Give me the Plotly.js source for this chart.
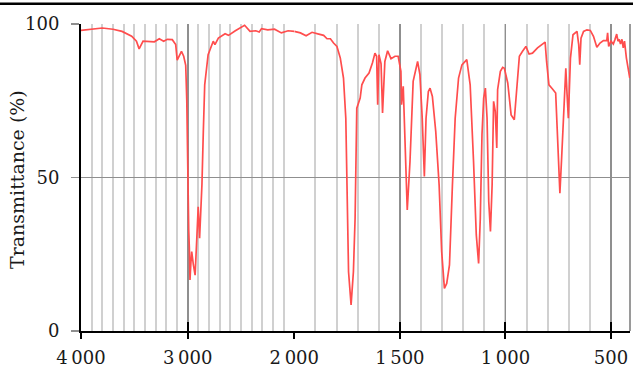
<!DOCTYPE html>
<html>
<head>
<meta charset="utf-8">
<script src="https://cdn.plot.ly/plotly-3.0.1.min.js"></script>
<style>
  html, body { margin: 0; padding: 0; background: #fff; }
  #chart { width: 633px; height: 367px; }
</style>
</head>
<body>
<div id="chart"></div>
<script>
// IR spectrum: wavenumber (cm^-1) and transmittance (%)
const wavenumber = [
  4000, 3900, 3800, 3700, 3615, 3525, 3480, 3455, 3418, 3312, 3266, 3225, 3190, 3144, 3112, 3098, 3075, 3058, 3037, 3018,
  3008, 3000, 2990, 2984, 2978, 2970, 2962, 2946, 2930, 2914, 2901, 2888, 2866, 2853, 2840, 2808, 2776, 2760, 2744, 2712,
  2649, 2617, 2553, 2505, 2466, 2415, 2361, 2329, 2307, 2249, 2185, 2121, 2058, 2000,
  1971, 1944, 1916, 1884, 1861, 1845, 1829, 1814, 1798, 1782, 1767, 1756, 1748, 1743, 1731, 1720, 1712, 1704, 1688, 1680,
  1665, 1646, 1630, 1618, 1610, 1605, 1599, 1589, 1582, 1571, 1558, 1542, 1523, 1508, 1495, 1492, 1484, 1476, 1465, 1452,
  1437, 1416, 1405, 1394, 1384, 1376, 1365, 1357, 1346, 1330, 1314, 1302, 1289, 1278, 1265, 1251, 1238, 1222, 1206, 1183,
  1167, 1151, 1138, 1127, 1119, 1111, 1103, 1095, 1087, 1079, 1071, 1063, 1056, 1048, 1041, 1037, 1024, 1013, 1005, 989,
  973, 958, 942, 934, 919, 903, 888, 872, 848, 825, 812, 805, 794, 778, 762, 755, 747, 742, 734, 723,
  714, 708, 702, 692, 680, 661, 653, 648, 642, 630, 614, 598, 583, 567, 552, 536, 520, 516, 511, 500,
  489, 481, 473, 467, 461, 455, 448, 442, 436, 427, 411
];
const transmittance = [
  97.9, 98.4, 98.7, 98.3, 97.6, 96.0, 94.4, 91.9, 94.4, 94.2, 95.2, 94.4, 95.0, 94.9, 93.3, 88.2, 90.0, 91.1, 89.5, 86.5,
  75.0, 49.8, 33.0, 26.9, 16.6, 22.0, 25.9, 21.5, 18.2, 30.2, 40.5, 30.2, 47.6, 65.0, 80.2, 90.0, 93.3, 94.4, 93.3, 95.4,
  96.8, 96.3, 97.8, 98.9, 99.6, 97.6, 97.8, 97.4, 98.5, 98.1, 98.3, 97.1, 97.8, 97.6,
  97.1, 96.2, 97.3, 96.7, 96.3, 95.2, 95.2, 93.8, 92.7, 88.9, 82.4, 69.3, 36.7, 19.3, 8.5, 19.3, 36.7, 72.6, 75.9, 80.2,
  82.4, 84.0, 87.3, 90.5, 89.5, 73.7, 90.0, 87.0, 71.0, 87.8, 91.3, 88.7, 89.5, 89.5, 84.6, 73.7, 79.7, 63.9, 39.4, 55.2,
  81.3, 87.8, 83.5, 69.3, 50.3, 69.3, 78.0, 79.1, 76.4, 65.0, 47.6, 25.9, 13.9, 15.5, 21.5, 47.6, 69.3, 82.4, 86.7, 88.4,
  80.2, 55.2, 31.3, 22.0, 36.7, 63.9, 75.9, 79.1, 69.3, 42.2, 32.4, 47.6, 74.8, 71.5, 59.6, 78.6, 84.6, 85.9, 85.6, 80.8,
  70.4, 68.8, 84.6, 89.5, 91.1, 92.7, 90.2, 90.5, 92.2, 93.5, 94.1, 87.8, 80.2, 78.9, 77.5, 66.1, 53.0, 44.9, 56.0, 74.8,
  85.6, 77.0, 69.3, 88.9, 96.5, 97.6, 93.3, 86.7, 95.4, 97.6, 98.1, 97.9, 96.0, 92.4, 93.8, 94.6, 94.6, 97.1, 92.7, 94.4,
  93.5, 95.0, 96.7, 94.4, 95.0, 93.5, 95.0, 92.2, 94.4, 88.9, 82.4
];

// axis ticks (the axis scale doubles below 2000 cm^-1)
const highTicks = [4000, 3000, 2000];
const highLabels = ['4\u2009000', '3\u2009000', '2\u2009000'];
const lowTicks = [1500, 1000, 500];
const lowLabels = ['1\u2009500', '1\u2009000', '500'];
const yTicks = [0, 50, 100];
const yLabels = ['0', '50', '100'];
const yTitle = 'Transmittance (%)';

const hiX = [], hiY = [], loX = [], loY = [];
wavenumber.forEach((w, i) => {
  if (w >= 2000) { hiX.push(w); hiY.push(transmittance[i]); }
  if (w <= 2000) { loX.push(w); loY.push(transmittance[i]); }
});

const lineStyle = { color: '#ff4d4d', width: 1.7 };
const traces = [
  { x: hiX, y: hiY, xaxis: 'x', yaxis: 'y', mode: 'lines', line: lineStyle, hoverinfo: 'skip', showlegend: false },
  { x: loX, y: loY, xaxis: 'x2', yaxis: 'y', mode: 'lines', line: lineStyle, hoverinfo: 'skip', showlegend: false },
  { x: [], y: [], xaxis: 'x3', yaxis: 'y', mode: 'lines', hoverinfo: 'skip', showlegend: false },
  { x: [], y: [], xaxis: 'x4', yaxis: 'y', mode: 'lines', hoverinfo: 'skip', showlegend: false }
];

const font = { family: 'DejaVu Serif', size: 18, color: '#1a1a1a' };
const split = 0.3885;
const majorGrid = '#8f8f8f';
const minorGrid = '#d0d0d0';

function baseX(domain, range, vals, labels) {
  return {
    domain: domain, range: range, anchor: 'y',
    tickmode: 'array', tickvals: vals, ticktext: labels,
    showgrid: true, gridcolor: majorGrid, gridwidth: 1.8,
    minor: { tickmode: 'linear', tick0: 0, dtick: 100, showgrid: true, gridcolor: minorGrid, gridwidth: 2, ticks: '' },
    showline: true, linecolor: '#000', linewidth: 2,
    ticks: 'outside', ticklen: 6, tickwidth: 2, tickcolor: '#000',
    ticklabelstandoff: 3,
    zeroline: false, tickfont: font, fixedrange: true
  };
}
function overlayX(over, range, vals) {
  return {
    overlaying: over, anchor: 'y', range: range,
    tickmode: 'array', tickvals: vals,
    ticks: 'inside', ticklen: 9, tickwidth: 2, tickcolor: '#000',
    showticklabels: false, showgrid: false, showline: false, zeroline: false, fixedrange: true
  };
}

const layout = {
  width: 633, height: 367,
  margin: { l: 81, r: 3, t: 24, b: 36 },
  paper_bgcolor: '#fff', plot_bgcolor: '#fff',
  font: font,
  showlegend: false,
  xaxis: baseX([0, split], [4000, 2000], highTicks, highLabels),
  xaxis2: baseX([split, 1], [2000, 410], lowTicks, lowLabels),
  xaxis3: overlayX('x', [4000, 2000], highTicks),
  xaxis4: overlayX('x2', [2000, 410], lowTicks),
  yaxis: {
    range: [0, 100], anchor: 'x',
    tickmode: 'array', tickvals: yTicks, ticktext: yLabels,
    showgrid: true, gridcolor: majorGrid, gridwidth: 1.8,
    showline: true, linecolor: '#000', linewidth: 2,
    ticks: 'outside', ticklen: 8, tickwidth: 1.8, tickcolor: majorGrid,
    ticklabelstandoff: 8,
    zeroline: false, tickfont: font, fixedrange: true
  },
  annotations: [
    { text: yTitle, xref: 'paper', yref: 'paper', x: -0.1166, y: 0.495, xanchor: 'center', yanchor: 'middle',
      textangle: -90, showarrow: false, font: { family: 'DejaVu Serif', size: 19, color: '#1a1a1a' } }
  ],
  shapes: [
    { type: 'line', xref: 'paper', yref: 'paper', x0: -0.2, x1: 1.05, y0: 1.066, y1: 1.066,
      line: { color: '#000', width: 2.5 }, layer: 'above' },
    { type: 'line', xref: 'paper', yref: 'paper', x0: 1, x1: 1, y0: 0, y1: 1,
      line: { color: majorGrid, width: 1.8 }, layer: 'below' }
  ]
};

Plotly.newPlot('chart', traces, layout, { staticPlot: true, displayModeBar: false });
</script>
</body>
</html>
